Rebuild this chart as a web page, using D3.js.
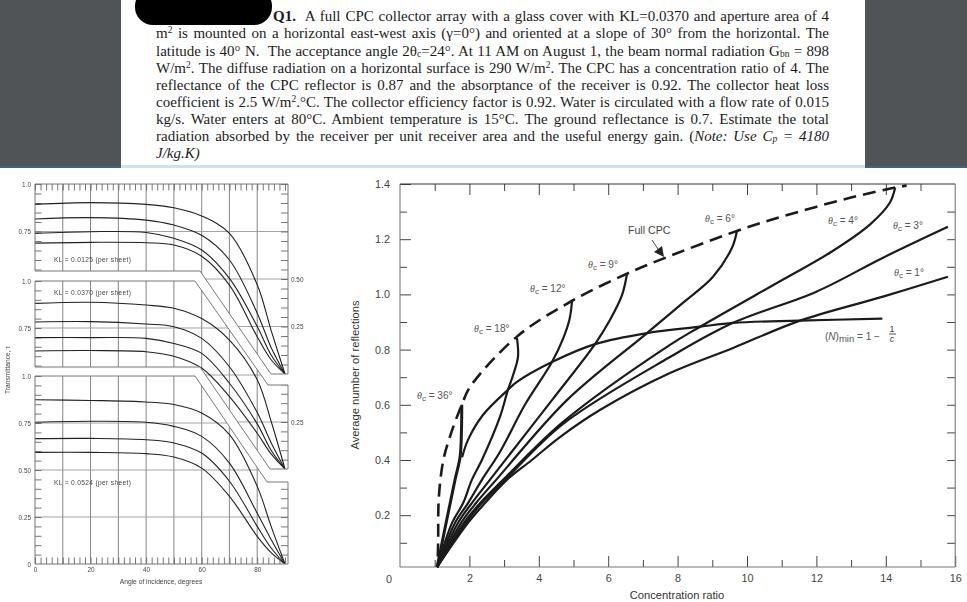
<!DOCTYPE html>
<html>
<head>
<meta charset="utf-8">
<title>CPC reflections</title>
<script src="https://d3js.org/d3.v7.min.js"></script>
<style>
  html, body { margin: 0; padding: 0; background: #fff; }
  #page { position: relative; width: 967px; height: 602px; overflow: hidden; }
  svg { position: absolute; left: 0; top: 0; }
  .q { position: absolute; height: 17px; line-height: 17px; font-family: "Liberation Serif", serif; font-size: 15px;
       color: #1c1c1c; text-align: justify; text-align-last: justify; white-space: normal; }
  .q sup { font-size: 9.5px; line-height: 0; vertical-align: 5px; }
  .q sub { font-size: 9.5px; line-height: 0; vertical-align: -1px; }
</style>
</head>
<body>
<div id="page"><svg id="chart" width="967" height="602"></svg></div>
<script>
// question text, one entry per printed line
var questionLines = [
  "<b>Q1.</b>&nbsp; A full CPC collector array with a glass cover with KL=0.0370 and aperture area of 4",
  "m<sup>2</sup> is mounted on a horizontal east-west axis (γ=0°) and oriented at a slope of 30° from the horizontal. The",
  "latitude is 40° N.&nbsp; The acceptance angle 2θ<sub>c</sub>=24°. At 11 AM on August 1, the beam normal radiation G<sub>bn</sub> = 898",
  "W/m<sup>2</sup>. The diffuse radiation on a horizontal surface is 290 W/m<sup>2</sup>. The CPC has a concentration ratio of 4. The",
  "reflectance of the CPC reflector is 0.87 and the absorptance of the receiver is 0.92. The collector heat loss",
  "coefficient is 2.5 W/m<sup>2</sup>.°C. The collector efficiency factor is 0.92. Water is circulated with a flow rate of 0.015",
  "kg/s. Water enters at 80°C. Ambient temperature is 15°C. The ground reflectance is 0.7. Estimate the total",
  "radiation absorbed by the receiver per unit receiver area and the useful energy gain. (<i>Note: Use C<sub>p</sub> = 4180</i>",
  "<i>J/kg.K)</i>"
];

// left chart: transmittance vs angle of incidence
var angles = [0, 20, 40, 50, 60, 70, 80, 85, 90];
var kl0125a = [0.893, 0.902, 0.893, 0.875, 0.832, 0.740, 0.470, 0.230, 0];
var kl0125b = [0.816, 0.823, 0.810, 0.784, 0.730, 0.600, 0.320, 0.140, 0];
var kl0125c = [0.740, 0.749, 0.745, 0.714, 0.653, 0.503, 0.250, 0.100, 0];
var kl0125d = [0.689, 0.693, 0.691, 0.679, 0.620, 0.468, 0.196, 0.075, 0];
var kl0370a = [0.881, 0.887, 0.872, 0.855, 0.800, 0.686, 0.475, 0.254, 0];
var kl0370b = [0.782, 0.784, 0.771, 0.757, 0.695, 0.544, 0.300, 0.140, 0];
var kl0370c = [0.699, 0.699, 0.695, 0.668, 0.615, 0.456, 0.240, 0.100, 0];
var kl0370d = [0.628, 0.630, 0.624, 0.600, 0.537, 0.385, 0.190, 0.080, 0];
var kl0524a = [0.874, 0.870, 0.862, 0.848, 0.803, 0.688, 0.413, 0.200, 0];
var kl0524b = [0.754, 0.759, 0.754, 0.732, 0.679, 0.537, 0.270, 0.130, 0];
var kl0524c = [0.667, 0.668, 0.661, 0.644, 0.590, 0.440, 0.200, 0.085, 0];
var kl0524d = [0.594, 0.594, 0.587, 0.569, 0.510, 0.360, 0.147, 0.060, 0];

// right chart: [concentration ratio, average number of reflections]
var fullCpc = [[1.09,0.05],[1.10,0.11],[1.12,0.266],[1.25,0.40],[1.44,0.485],[1.78,0.60],[2.02,0.665],[3.37,0.847],[4.96,0.977],[6.54,1.075],[7.49,1.125],[9.71,1.23],[11.04,1.283],[12.97,1.35],[14.27,1.387],[14.6,1.394]];
var nMin = [[1.79,0.41],[1.96,0.473],[2.39,0.563],[3.11,0.654],[3.37,0.683],[4.38,0.755],[5.62,0.82],[7.12,0.86],[8.65,0.883],[9.6,0.897],[11.5,0.905],[13.9,0.912]];
var theta36 = [[1.07,0.012],[1.585,0.328],[1.73,0.41],[1.77,0.50],[1.78,0.60]];
var theta18 = [[1.07,0.012],[1.50,0.172],[1.82,0.244],[2.07,0.328],[2.36,0.40],[2.88,0.556],[3.11,0.654],[3.26,0.708],[3.40,0.774],[3.37,0.842]];
var theta12 = [[1.07,0.012],[1.585,0.172],[1.96,0.244],[2.36,0.328],[2.88,0.429],[3.6,0.6],[4.38,0.755],[4.7,0.84],[4.88,0.907],[4.96,0.977]];
var theta9 = [[1.07,0.012],[1.67,0.172],[2.07,0.244],[2.59,0.328],[4.38,0.617],[5.62,0.82],[6.05,0.907],[6.4,0.998],[6.54,1.074]];
var theta6 = [[1.07,0.012],[1.76,0.172],[2.19,0.244],[2.77,0.328],[4.81,0.617],[7.12,0.86],[8.16,0.97],[9.02,1.064],[9.57,1.17],[9.71,1.23]];
var theta4 = [[1.07,0.012],[1.84,0.172],[2.31,0.244],[2.97,0.328],[4.7,0.538],[7.78,0.817],[8.65,0.883],[11.04,1.054],[12.39,1.151],[13.54,1.253],[14.12,1.333],[14.27,1.387]];
var theta3 = [[1.07,0.012],[1.90,0.172],[2.36,0.244],[3.03,0.328],[4.7,0.531],[7.78,0.773],[9.6,0.897],[12.0,1.01],[13.92,1.133],[15.79,1.245]];
var theta1 = [[1.07,0.012],[1.96,0.172],[2.45,0.244],[3.08,0.328],[3.8,0.40],[4.61,0.483],[5.76,0.581],[7.78,0.715],[9.6,0.806],[11.53,0.905],[13.92,0.992],[15.79,1.064]];

var svg = d3.select("#chart");
var defs = svg.append("defs");
defs.append("filter").attr("id", "soft")
    .attr("x", "-5%").attr("y", "-5%").attr("width", "110%").attr("height", "110%")
  .append("feGaussianBlur").attr("stdDeviation", 0.5);

// page header
svg.append("rect").attr("width", 967).attr("height", 168).attr("fill", "#505456");
svg.append("rect").attr("x", 121).attr("width", 744).attr("height", 168).attr("fill", "#fff");
svg.append("rect").attr("y", 166).attr("width", 967).attr("height", 2).attr("fill", "#3f6488");
svg.append("rect").attr("x", 121).attr("y", 165).attr("width", 744).attr("height", 3).attr("fill", "#cfe0f4");
svg.append("rect").attr("x", 135).attr("y", -12).attr("width", 137).attr("height", 37).attr("rx", 18).attr("fill", "#000");

var baselines = [21, 38.3, 55.5, 72.5, 90, 107, 124, 141, 158];
d3.select("#page").selectAll("div.q")
  .data(questionLines)
  .enter().append("div")
    .attr("class", "q")
    .style("left", function(d, i) { return (i == 0 ? 273 : 156) + "px"; })
    .style("width", function(d, i) { return i == 8 ? "60px" : (i == 0 ? 556 : 673) + "px"; })
    .style("top", function(d, i) { return (baselines[i] - 13) + "px"; })
    .style("text-align-last", function(d, i) { return i == 8 ? "left" : "justify"; })
    .html(function(d) { return d; });

// ---- left chart ----
var left = svg.append("g").attr("filter", "url(#soft)");
var xAngle = d3.scaleLinear().domain([0, 90]).range([35, 285]);
var leftEdge = 35, rightEdge = 288;

var panels = [
  { yTop: 184, yZero: 374, series: [kl0125a, kl0125b, kl0125c, kl0125d], leftLabels: [1, 0.75], rightLabels: [0.5, 0.25],
    outline: [[35,184],[288,184],[288,374],[271,374],[200,271],[35,271]], title: "KL = 0.0125 (per sheet)", titleY: 262 },
  { yTop: 281, yZero: 469, series: [kl0370a, kl0370b, kl0370c, kl0370d], leftLabels: [1, 0.75], rightLabels: [0.25],
    outline: [[35,281],[195,281],[268,385],[288,385],[288,469],[270,469],[200,367],[35,367]], title: "KL = 0.0370 (per sheet)", titleY: 295 },
  { yTop: 376, yZero: 564, series: [kl0524a, kl0524b, kl0524c, kl0524d], leftLabels: [1, 0.75, 0.5, 0.25, 0], rightLabels: [],
    outline: [[35,376],[195,376],[267,482],[288,482],[288,564],[35,564]], title: "KL = 0.0524 (per sheet)", titleY: 485 }
];

var tauTicks = d3.range(0, 21).map(function(i) { return i * 0.05; });
var line10 = d3.range(10, 90, 10);
var angleMinor = d3.range(0, 91, 2);
var tauLine = d3.line().curve(d3.curveCatmullRom.alpha(0.5));

panels.forEach(function(p, n) {
  var yTau = d3.scaleLinear().domain([0, 1]).range([p.yZero, p.yTop]);
  var clipId = "panel" + n;
  defs.append("clipPath").attr("id", clipId)
    .append("polygon").attr("points", p.outline.join(" "));

  var inner = left.append("g").attr("clip-path", "url(#" + clipId + ")");

  // grid
  inner.selectAll(".v").data(line10).enter().append("line")
      .attr("x1", function(d) { return xAngle(d); })
      .attr("x2", function(d) { return xAngle(d); })
      .attr("y1", p.yTop).attr("y2", p.yZero + 30)
      .attr("stroke", function(d) { return d >= 60 ? "#999" : "#666"; })
      .attr("stroke-width", function(d) { return d >= 60 ? 1.2 : 0.8; });
  inner.selectAll(".h").data([0.25, 0.5, 0.75]).enter().append("line")
      .attr("x1", leftEdge).attr("x2", rightEdge)
      .attr("y1", function(d) { return yTau(d); })
      .attr("y2", function(d) { return yTau(d); })
      .attr("stroke", "#999").attr("stroke-width", 0.9);

  // small inward ticks on both sides
  var la = inner.append("g").attr("transform", "translate(" + leftEdge + ",0)")
      .call(d3.axisLeft(yTau).tickValues(tauTicks).tickSize(-6.5).tickFormat(""));
  var ra = inner.append("g").attr("transform", "translate(" + rightEdge + ",0)")
      .call(d3.axisRight(yTau).tickValues(tauTicks).tickSize(-7).tickFormat(""));
  la.selectAll("path").remove();
  ra.selectAll("path").remove();
  inner.selectAll("g.tick line").attr("stroke", "#666").attr("stroke-width", 0.9);

  // curves
  inner.selectAll(".curve").data(p.series).enter().append("path")
      .attr("fill", "none").attr("stroke", "#222").attr("stroke-width", 1.1)
      .attr("d", function(s) {
        return tauLine(s.map(function(v, i) { return [xAngle(angles[i]), yTau(v)]; }));
      });

  // panel outline
  left.append("polygon").attr("points", p.outline.join(" "))
      .attr("fill", "none").attr("stroke", "#777").attr("stroke-width", 1);

  // labels
  var lab = left.append("g").attr("transform", "translate(" + (leftEdge - 4) + ",0)")
      .call(d3.axisLeft(yTau).tickValues(p.leftLabels).tickSize(0).tickPadding(0)
        .tickFormat(function(d) { return d == 1 ? "1.0" : (d == 0 ? "0" : d3.format(".2f")(d)); }));
  lab.select("path").remove();
  var rab = left.append("g").attr("transform", "translate(" + (rightEdge + 3) + ",0)")
      .call(d3.axisRight(yTau).tickValues(p.rightLabels).tickSize(0).tickPadding(0).tickFormat(d3.format(".2f")));
  rab.select("path").remove();
  left.selectAll("g.tick text").attr("font-family", "Liberation Sans").attr("font-size", 6.4).attr("fill", "#444");

  left.append("text").attr("x", 54).attr("y", p.titleY)
      .attr("font-family", "Liberation Sans").attr("font-size", 6.6).attr("letter-spacing", 0.35)
      .attr("fill", "#444").text(p.title);
});

var angleTop = left.append("g").attr("transform", "translate(0,184)")
    .call(d3.axisTop(xAngle).tickValues(angleMinor).tickSize(-6.5).tickFormat(""));
var angleBottom = left.append("g").attr("transform", "translate(0,564)")
    .call(d3.axisBottom(xAngle).tickValues(angleMinor).tickSize(-6.5).tickFormat(""));
angleTop.select("path").remove();
angleBottom.select("path").remove();
angleTop.selectAll("line").attr("stroke", "#666").attr("stroke-width", 0.9);
angleBottom.selectAll("line").attr("stroke", "#666").attr("stroke-width", 0.9);

var angleLabels = left.append("g").attr("transform", "translate(0,567)")
    .call(d3.axisBottom(xAngle).tickValues([0, 20, 40, 60, 80]).tickSize(0).tickPadding(0));
angleLabels.select("path").remove();
angleLabels.selectAll("text").attr("font-family", "Liberation Sans").attr("font-size", 6.4).attr("fill", "#444");

left.append("text").attr("x", 161).attr("y", 584).attr("text-anchor", "middle")
    .attr("font-family", "Liberation Sans").attr("font-size", 6.7).attr("fill", "#444")
    .text("Angle of incidence, degrees");
left.append("text").attr("transform", "translate(10,370) rotate(-90)").attr("text-anchor", "middle")
    .attr("font-family", "Liberation Sans").attr("font-size", 6.6).attr("fill", "#444")
    .text("Transmittance, τ");

// ---- right chart ----
var x = d3.scaleLinear().domain([0, 16]).range([400, 955.2]);
var y = d3.scaleLinear().domain([0, 1.4]).range([570.4, 184]);
var right = svg.append("g");
var axisFont = "Liberation Sans", axisCol = "#444";

var yBase = 567;
var major = [2, 4, 6, 8, 10, 12, 14];
var minorX = [1, 3, 5, 7, 9, 11, 13, 15];

function tidy(g) {
  g.select("path").remove();
  g.selectAll("line").attr("stroke", "#444").attr("stroke-width", 1);
  g.selectAll("text").attr("font-family", axisFont).attr("font-size", 10.8).attr("fill", axisCol);
}

right.append("g").attr("transform", "translate(0," + yBase + ")")
    .call(d3.axisBottom(x).tickValues(major.concat([16])).tickSize(-11).tickPadding(7).tickFormat(d3.format("d"))).call(tidy);
right.append("g").attr("transform", "translate(0," + yBase + ")")
    .call(d3.axisBottom(x).tickValues(minorX).tickSize(-7).tickFormat("")).call(tidy);
right.append("g").attr("transform", "translate(0,184)")
    .call(d3.axisTop(x).tickValues(major).tickSize(-11).tickFormat("")).call(tidy);
right.append("g").attr("transform", "translate(0,184)")
    .call(d3.axisTop(x).tickValues(minorX).tickSize(-7).tickFormat("")).call(tidy);
right.append("g").attr("transform", "translate(400,0)")
    .call(d3.axisLeft(y).tickValues([0.2, 0.4, 0.6, 0.8, 1.0, 1.2, 1.4]).tickSize(-11).tickPadding(10).tickFormat(d3.format(".1f"))).call(tidy);
right.append("g").attr("transform", "translate(400,0)")
    .call(d3.axisLeft(y).tickValues([0.1, 0.3, 0.5, 0.7, 0.9, 1.1, 1.3]).tickSize(-7).tickFormat("")).call(tidy);
right.append("g").attr("transform", "translate(" + x(16) + ",0)")
    .call(d3.axisRight(y).tickValues(d3.range(1, 14).map(function(i) { return i / 10; })).tickSize(-8).tickFormat("")).call(tidy);

right.append("line").attr("x1", x(0)).attr("x2", x(16)).attr("y1", 184).attr("y2", 184).attr("stroke", "#333").attr("stroke-width", 1.1);
right.append("line").attr("x1", x(0)).attr("x2", x(16)).attr("y1", yBase).attr("y2", yBase).attr("stroke", "#777").attr("stroke-width", 1.1);
right.append("line").attr("x1", x(0)).attr("x2", x(0)).attr("y1", 184).attr("y2", yBase).attr("stroke", "#777").attr("stroke-width", 1.1);
right.append("line").attr("x1", x(16)).attr("x2", x(16)).attr("y1", 184).attr("y2", yBase).attr("stroke", "#777").attr("stroke-width", 1.1);

right.append("text").attr("x", 389).attr("y", 583).attr("text-anchor", "middle")
    .attr("font-family", axisFont).attr("font-size", 10.8).attr("fill", axisCol).text("0");

var curve = d3.line()
    .x(function(d) { return x(d[0]); })
    .y(function(d) { return y(d[1]); })
    .curve(d3.curveCatmullRom.alpha(0.5));

right.selectAll(".theta")
  .data([theta36, theta18, theta12, theta9, theta6, theta4, theta3, theta1, nMin])
  .enter().append("path")
    .attr("fill", "none").attr("stroke", "#1b1b1b")
    .attr("stroke-width", function(d) { return d === theta36 ? 3 : 2.2; })
    .attr("d", curve);

right.append("path").datum(fullCpc)
    .attr("fill", "none").attr("stroke", "#1b1b1b").attr("stroke-width", 2.6)
    .attr("stroke-dasharray", "13 7")
    .attr("d", curve);

// theta labels
var thetaLabels = ["36", "18", "12", "9", "6", "4", "3", "1"];
var thetaSpots = [[417, 399], [474, 332], [530, 292], [588, 268], [705, 222], [828, 224], [893, 229], [894, 276]];
thetaLabels.forEach(function(t, i) {
  var lab = right.append("text").attr("x", thetaSpots[i][0]).attr("y", thetaSpots[i][1])
      .attr("font-family", axisFont).attr("font-size", 10).attr("fill", "#555");
  lab.append("tspan").attr("font-style", "italic").attr("font-family", "Liberation Serif").text("θ");
  lab.append("tspan").attr("font-size", 8).attr("dy", 2).text("c");
  lab.append("tspan").attr("dy", -2).text(" = " + t + "°");
});

right.append("text").attr("x", 628).attr("y", 234)
    .attr("font-family", axisFont).attr("font-size", 10.6).attr("fill", "#444").text("Full CPC");

// arrow to the dashed curve
right.append("line").attr("x1", 652).attr("y1", 240).attr("x2", 660).attr("y2", 252).attr("stroke", "#333").attr("stroke-width", 0.9);
right.append("path").attr("d", d3.line()([[654, 252], [662, 246], [664, 257]])).attr("fill", "#222");

// (N)min formula
var nLab = right.append("text").attr("x", 825).attr("y", 340)
    .attr("font-family", axisFont).attr("font-size", 10).attr("fill", "#555");
nLab.append("tspan").text("(");
nLab.append("tspan").attr("font-style", "italic").text("N");
nLab.append("tspan").text(")");
nLab.append("tspan").attr("font-size", 9.5).attr("dy", 2).text("min");
nLab.append("tspan").attr("dy", -2).text(" = 1 − ");
right.append("text").attr("x", 892).attr("y", 332).attr("text-anchor", "middle")
    .attr("font-family", axisFont).attr("font-size", 9).attr("fill", "#444").text("1");
right.append("line").attr("x1", 889).attr("x2", 896).attr("y1", 334).attr("y2", 334).attr("stroke", "#444").attr("stroke-width", 0.9);
right.append("text").attr("x", 892).attr("y", 342).attr("text-anchor", "middle").attr("font-style", "italic")
    .attr("font-family", axisFont).attr("font-size", 9).attr("fill", "#444").text("c");

right.append("text").attr("transform", "translate(359,375) rotate(-90)").attr("text-anchor", "middle")
    .attr("font-family", axisFont).attr("font-size", 11.2).attr("fill", "#333")
    .text("Average number of reflections");
right.append("text").attr("x", 677).attr("y", 599).attr("text-anchor", "middle")
    .attr("font-family", axisFont).attr("font-size", 11.2).attr("fill", "#333")
    .text("Concentration ratio");
</script>
</body>
</html>
